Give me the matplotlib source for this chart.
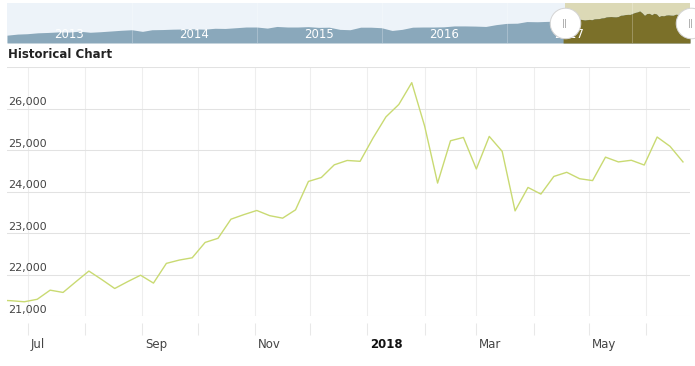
import numpy as np
import matplotlib
matplotlib.use("Agg")
import matplotlib.pyplot as plt
import matplotlib.dates as mdates
import matplotlib.transforms as mtransforms
import pandas as pd

# ----------------------------------------------
# DATA
# ----------------------------------------------
# weekly values in the main chart, one per week starting 2017-06-15
week_start = "2017-06-15"
weekly_values = [21390, 21375, 21350, 21410, 21630, 21575, 21835, 22090, 21885, 21670,
                 21835, 21990, 21800, 22275, 22355, 22410, 22780, 22880, 23340, 23450,
                 23550, 23425, 23365, 23565, 24250, 24345, 24650, 24755, 24735, 25295,
                 25805, 26105, 26630, 25580, 24210, 25230, 25310, 24550, 25335, 24975,
                 23540, 24105, 23945, 24370, 24470, 24315, 24270, 24835, 24720, 24760,
                 24645, 25320, 25095, 24720]

# navigator history (monthly, Jan 2013 - Jun 2017)
nav_start = "2013-01-01"
nav_monthly = [13300, 13900, 14100, 14600, 14800, 15100, 15000, 15500, 14900, 15200, 15600, 16000,
               16300, 15400, 16300, 16400, 16600, 16700, 16800, 16600, 17100, 17000, 17400, 17800,
               17800, 17200, 18100, 17800, 17800, 18000, 17600, 17700, 16500, 16300, 17700, 17700,
               17400, 15900, 16500, 17700, 17800, 17800, 17900, 18400, 18400, 18300, 18100, 19100,
               19800, 19900, 20800, 20700, 20900, 21000]

month_labels = ["Jul", "", "Sep", "", "Nov", "", "2018", "", "Mar", "", "May", ""]
y_ticks = [21000, 22000, 23000, 24000, 25000, 26000, 27000]
y_labels = ["21,000", "22,000", "23,000", "24,000", "25,000", "26,000", ""]
nav_years = ["2013", "2014", "2015", "2016", "2017"]

weeks = pd.date_range(week_start, periods=len(weekly_values), freq="7D")
nav_months = pd.date_range(nav_start, periods=len(nav_monthly), freq="MS")
month_ticks = pd.date_range("2017-07-01", periods=len(month_labels), freq="MS")

# ----------------------------------------------
# FIGURE
# ----------------------------------------------
W, H = 695, 366
fig = plt.figure(figsize=(W / 100, H / 100), dpi=100)
fig.patch.set_facecolor("white")

def px_axes(x0, y0, x1, y1):
    return fig.add_axes([x0 / W, 1 - y1 / H, (x1 - x0) / W, (y1 - y0) / H])

# ---------------- main chart ----------------
ax = px_axes(7, 67.3, 690, 316.3)
x_left = mdates.date2num(pd.Timestamp("2017-07-01")) - 21 / 1.845
x_right = mdates.date2num(pd.Timestamp("2017-07-01")) + 662 / 1.845
ax.set_xlim(x_left, x_right)
ax.set_ylim(21000, 27000)
for s in ax.spines.values():
    s.set_visible(False)

ax.set_xticks(mdates.date2num(month_ticks))
ax.set_yticks(y_ticks)
ax.tick_params(length=0, labelbottom=False, labelleft=False)
ax.xaxis.grid(True, color="#eeeeee", lw=0.75)
ax.yaxis.grid(True, color="#e2e2e2", lw=0.75)
ax.set_axisbelow(True)

ax.plot(mdates.date2num(weeks), weekly_values, color="#c9da72", lw=1.0, zorder=3)

# tick marks below the plot, detached from it
trans_x = mtransforms.blended_transform_factory(ax.transData, ax.transAxes)
ax.vlines(mdates.date2num(month_ticks), -0.027, -0.076, transform=trans_x,
          color="#e8e8e8", lw=0.75, clip_on=False)

lab_trans = mtransforms.offset_copy(trans_x, fig=fig, x=3, y=0, units="dots")
for d, lab in zip(month_ticks, month_labels):
    if lab == "":
        continue
    bold = lab == "2018"
    ax.text(mdates.date2num(d), -0.115, lab, transform=lab_trans, ha="left", va="center",
            fontsize=8.5, color="#111111" if bold else "#444444",
            fontweight="bold" if bold else "normal")

ytrans = mtransforms.blended_transform_factory(ax.transAxes, ax.transData)
ytrans = mtransforms.offset_copy(ytrans, fig=fig, x=1, y=1.5, units="dots")
for v, lab in zip(y_ticks, y_labels):
    ax.text(0, v, lab, transform=ytrans, ha="left", va="bottom", fontsize=8, color="#444444")

fig.text(8 / W, 1 - 55 / H, "Historical Chart", ha="left", va="center",
         fontsize=8.5, fontweight="bold", color="#222222")

# ---------------- navigator ----------------
nav = px_axes(7, 3, 690, 43)
nav_dates = list(nav_months) + list(weeks)
nav_vals = list(nav_monthly) + list(weekly_values)
nav_x = mdates.date2num(pd.DatetimeIndex(nav_dates))
nav_bottom, nav_top = 8990, 31030
nav.set_xlim(mdates.date2num(pd.Timestamp(nav_start)), nav_x[-1])
nav.set_ylim(nav_bottom, nav_top)
nav.set_facecolor("#edf3f9")
for s in nav.spines.values():
    s.set_visible(False)
nav.set_xticks([])
nav.set_yticks([])

sel_start = x_left
sel_end = nav_x[-1]
nav.axvspan(sel_start, sel_end, color="#dcd9b6", lw=0, zorder=0)
nav.fill_between(nav_x, nav_vals, nav_bottom, color="#8aa8bb", lw=0, zorder=1)
sel = nav_x >= sel_start - 7
nav.fill_between(nav_x[sel], np.array(nav_vals)[sel], nav_bottom, color="#7b7029", lw=0, zorder=2)

for yr in range(2014, 2019):
    nav.axvline(mdates.date2num(pd.Timestamp(f"{yr}-01-01")), color="white", alpha=0.25, lw=0.75, zorder=3)

ntrans = mtransforms.blended_transform_factory(nav.transData, nav.transAxes)
for yr in nav_years:
    mid = mdates.date2num(pd.Timestamp(f"{yr}-07-02"))
    nav.text(mid, 0.21, yr, transform=ntrans, ha="center", va="center",
             fontsize=8.5, color="white", zorder=4)

for hx in [sel_start, sel_end + 3]:
    nav.plot([hx], [0.5], transform=ntrans, marker="o", ms=22, mfc="white",
             mec="#d4d4d4", mew=0.7, clip_on=False, zorder=10)
    nav.text(hx, 0.5, "||", transform=ntrans, ha="center", va="center",
             fontsize=6.5, color="#9a9a9a", clip_on=False, zorder=11)

fig.savefig("out.png", dpi=100, facecolor="white")
